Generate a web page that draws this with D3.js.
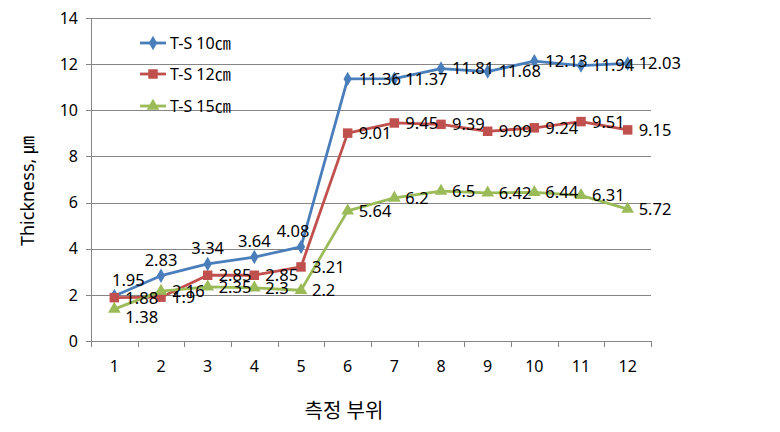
<!DOCTYPE html>
<html>
<head>
<meta charset="utf-8">
<script src="https://cdn.jsdelivr.net/npm/d3@7"></script>
<style>
  body { margin: 0; background: #fff; }
  svg { display: block; font-family: "Noto Sans", "Noto Sans CJK KR", sans-serif; }
</style>
</head>
<body>
<div id="chart"></div>
<script>
// 측정 부위 (x 카테고리)
const positions = ['1', '2', '3', '4', '5', '6', '7', '8', '9', '10', '11', '12'];
const seriesNames = ['T-S 10㎝', 'T-S 12㎝', 'T-S 15㎝'];
const ts10 = [1.95, 2.83, 3.34, 3.64, 4.08, 11.36, 11.37, 11.81, 11.68, 12.13, 11.94, 12.03];
const ts12 = [1.88, 1.9, 2.85, 2.85, 3.21, 9.01, 9.45, 9.39, 9.09, 9.24, 9.51, 9.15];
const ts15 = [1.38, 2.16, 2.35, 2.3, 2.2, 5.64, 6.2, 6.5, 6.42, 6.44, 6.31, 5.72];
const yTicks = [0, 2, 4, 6, 8, 10, 12, 14];

const width = 780, height = 432;
const margin = { left: 91, right: 129, top: 18, bottom: 91 };

const colors = ['#4A7EBB', '#C0504D', '#9BBB59'];
const symbols = [d3.symbolDiamond, d3.symbolSquare, d3.symbolTriangle];
const symSizes = [60, 90, 70];

const svg = d3.select('#chart').append('svg')
    .attr('width', width)
    .attr('height', height);

const x = d3.scaleBand()
    .domain(positions)
    .range([margin.left, width - margin.right]);

const y = d3.scaleLinear()
    .domain([0, 14])
    .range([height - margin.bottom, margin.top]);

// 그리드
svg.append('g')
    .selectAll('line')
    .data(yTicks)
    .join('line')
    .attr('x1', margin.left - 5)
    .attr('x2', width - margin.right)
    .attr('y1', d => Math.round(y(d)) + 0.5)
    .attr('y2', d => Math.round(y(d)) + 0.5)
    .attr('stroke', '#868686')
    .attr('stroke-width', 1);

// y축
svg.append('line')
    .attr('x1', margin.left + 0.5).attr('x2', margin.left + 0.5)
    .attr('y1', y(14)).attr('y2', y(0))
    .attr('stroke', '#868686');

svg.append('g')
    .selectAll('text')
    .data(yTicks)
    .join('text')
    .attr('x', margin.left - 13)
    .attr('y', d => y(d))
    .attr('dy', '0.36em')
    .attr('text-anchor', 'end')
    .attr('font-size', 16)
    .attr('fill', '#000')
    .text(d => d);

// x축 눈금
const boundaries = positions.map(p => x(p)).concat([x(positions[positions.length - 1]) + x.bandwidth()]);
svg.append('g')
    .selectAll('line')
    .data(boundaries)
    .join('line')
    .attr('x1', d => Math.round(d) + 0.5)
    .attr('x2', d => Math.round(d) + 0.5)
    .attr('y1', y(0))
    .attr('y2', y(0) + 6)
    .attr('stroke', '#868686');

svg.append('g')
    .selectAll('text')
    .data(positions)
    .join('text')
    .attr('x', d => x(d) + x.bandwidth() / 2)
    .attr('y', y(0) + 31)
    .attr('text-anchor', 'middle')
    .attr('font-size', 16)
    .attr('fill', '#000')
    .text(d => d);

// 축 제목
svg.append('text')
    .attr('transform', `translate(34,191) rotate(-90)`)
    .attr('text-anchor', 'middle')
    .attr('font-size', 18)
    .attr('fill', '#000')
    .text('Thickness, ㎛');

svg.append('text')
    .attr('x', 344)
    .attr('y', 418)
    .attr('text-anchor', 'middle')
    .attr('font-size', 20)
    .attr('fill', '#000')
    .text('측정 부위');

// 선 + 마커
const allSeries = [ts10, ts12, ts15];
const cx = (d, i) => x(positions[i]) + x.bandwidth() / 2;

const line = d3.line()
    .x(cx)
    .y(d => y(d));

allSeries.forEach((vals, s) => {
    svg.append('path')
        .datum(vals)
        .attr('fill', 'none')
        .attr('stroke', colors[s])
        .attr('stroke-width', 2.8)
        .attr('stroke-linejoin', 'round')
        .attr('d', line);

    svg.append('g')
        .selectAll('path')
        .data(vals)
        .join('path')
        .attr('transform', (d, i) => `translate(${cx(d, i)},${y(d)})`)
        .attr('d', d3.symbol().type(symbols[s]).size(symSizes[s]))
        .attr('fill', colors[s]);
});

// 데이터 레이블
allSeries.forEach((vals, s) => {
    svg.append('g')
        .selectAll('text')
        .data(vals)
        .join('text')
        .attr('x', (d, i) => {
            // 첫번째 계열 앞쪽 5개는 위에 표시
            if (s === 0 && i < 5) return cx(d, i) + (i === 0 ? 14 : (i === 4 ? -8 : 0));
            return cx(d, i) + 11;
        })
        .attr('y', (d, i) => {
            if (s === 0 && i < 5) return y(d) - 16;
            if (s === 2 && i === 0) return y(d) + 8;
            return y(d);
        })
        .attr('dy', '0.36em')
        .attr('text-anchor', (d, i) => (s === 0 && i < 5) ? 'middle' : 'start')
        .attr('font-size', 16.5)
        .attr('fill', '#000')
        .text(d => d);
});

// 범례
const legendY = [43, 74, 106];
const legend = svg.append('g')
    .selectAll('g')
    .data(seriesNames)
    .join('g')
    .attr('transform', (d, i) => `translate(140,${legendY[i]})`);

legend.append('line')
    .attr('x1', 0).attr('x2', 26)
    .attr('stroke', (d, i) => colors[i])
    .attr('stroke-width', 2.8);

legend.append('path')
    .attr('transform', 'translate(13,0)')
    .attr('d', (d, i) => d3.symbol().type(symbols[i]).size(symSizes[i])())
    .attr('fill', (d, i) => colors[i]);

legend.append('text')
    .attr('x', 30)
    .attr('dy', '0.36em')
    .attr('font-size', 16)
    .attr('fill', '#000')
    .text(d => d);
</script>
</body>
</html>
